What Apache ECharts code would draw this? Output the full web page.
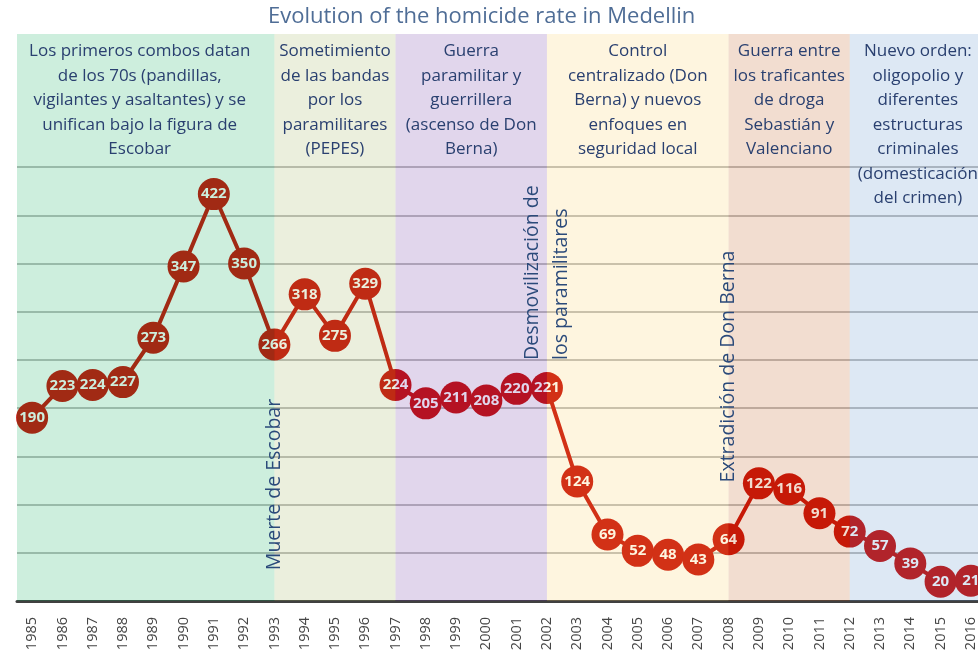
<!DOCTYPE html>
<html><head><meta charset="utf-8">
<script src="https://cdn.jsdelivr.net/npm/echarts@6/dist/echarts.min.js"></script>
<style>html,body{margin:0;padding:0;background:#fff;overflow:hidden}#c{width:986px;height:656px}</style>
</head><body><div id="c"></div>
<script>
const years = ['1985','1986','1987','1988','1989','1990','1991','1992','1993','1994','1995','1996','1997','1998','1999','2000','2001','2002','2003','2004','2005','2006','2007','2008','2009','2010','2011','2012','2013','2014','2015','2016'];
const rates = [190,223,224,227,273,347,422,350,266,318,275,329,224,205,211,208,220,221,124,69,52,48,43,64,122,116,91,72,57,39,20,21];
const periodStarts = [null,'1993','1997','2002','2008','2012'];
const periodEnds = ['1993','1997','2002','2008','2012',null];
const periodTexts = [
  'Los primeros combos datan\nde los 70s (pandillas,\nvigilantes y asaltantes) y se\nunifican bajo la figura de\nEscobar',
  'Sometimiento\nde las bandas\npor los\nparamilitares\n(PEPES)',
  'Guerra\nparamilitar y\nguerrillera\n(ascenso de Don\nBerna)',
  'Control\ncentralizado (Don\nBerna) y nuevos\nenfoques en\nseguridad local',
  'Guerra entre\nlos traficantes\nde droga\nSebastián y\nValenciano',
  'Nuevo orden:\noligopolio y\ndiferentes\nestructuras\ncriminales\n(domesticación\ndel crimen)'
];
const eventYears = ['1993','2002','2008'];
const eventTexts = ['Muerte de Escobar','Desmovilización de\nlos paramilitares','Extradición de Don Berna'];
const gridValues = [50,100,150,200,250,300,350,400,450];

const FONT = 'Open Sans';
const bandColors = ['rgba(5,170,85,0.2)','rgba(155,175,85,0.2)','rgba(105,50,160,0.2)','rgba(250,205,95,0.2)','rgba(190,85,20,0.2)','rgba(85,140,200,0.2)'];
const bandLabelShift = [-6, 0, 0, 0, 0, 0];
const eventBase = [32, 250, 123];

const bands = periodTexts.map((t, i) => {
  const a = { name: t, itemStyle: { color: bandColors[i] }, label: { offset: [bandLabelShift[i], 0] } };
  const b = {};
  if (periodStarts[i] !== null) a.xAxis = periodStarts[i];
  if (periodEnds[i] !== null) b.xAxis = periodEnds[i];
  return [a, b];
});

const chart = echarts.init(document.getElementById('c'), null, {renderer: 'canvas'});
chart.setOption({
  animation: false,
  title: {
    text: 'Evolution of the homicide rate in Medellin',
    left: 263, top: 1,
    textStyle: { fontFamily: FONT, fontSize: 22, fontWeight: 'normal', color: '#4f6d96' }
  },
  grid: { left: 17, top: 34, right: 0, height: 567 },
  xAxis: {
    type: 'category', data: years, boundaryGap: true,
    axisLine: { lineStyle: { color: '#404040', width: 3 } },
    axisTick: { show: false },
    axisLabel: { rotate: 90, margin: 16, fontFamily: FONT, fontSize: 14.5, color: '#454545', interval: 0 }
  },
  yAxis: { type: 'value', min: 0, max: 588, show: false, splitLine: { show: false } },
  series: [
    {
      type: 'line', data: rates, z: 2,
      symbol: 'circle', symbolSize: 32, showAllSymbol: true,
      lineStyle: { color: '#c80a04', width: 4 },
      itemStyle: { color: '#c80a04' },
      label: { show: true, position: 'inside', color: '#ffffff', fontFamily: FONT, fontWeight: 'bold', fontSize: 15 },
      markLine: {
        z: 1, silent: true, symbol: ['none','none'],
        label: { show: false },
        lineStyle: { color: '#a8a8a8', width: 1.5, type: 'solid' },
        data: gridValues.map(v => ({ yAxis: v }))
      },
      markPoint: {
        z: 20, silent: true, symbol: 'circle', symbolSize: 1,
        itemStyle: { color: 'rgba(0,0,0,0)' },
        label: {
          show: true, position: 'inside', rotate: 90, align: 'left', verticalAlign: 'middle',
          fontFamily: FONT, fontSize: 19.5, lineHeight: 29, color: '#2b4a7a'
        },
        data: eventYears.map((y, i) => ({ coord: [y, eventBase[i]], label: { formatter: eventTexts[i] } }))
      },
      markArea: {
        z: 10, silent: true,
        label: {
          show: true, position: 'insideTop', distance: 5, formatter: '{b}',
          fontFamily: FONT, fontSize: 17, lineHeight: 24.5, color: '#2a4070', align: 'center'
        },
        data: bands
      }
    }
  ]
});
</script>
</body></html>
